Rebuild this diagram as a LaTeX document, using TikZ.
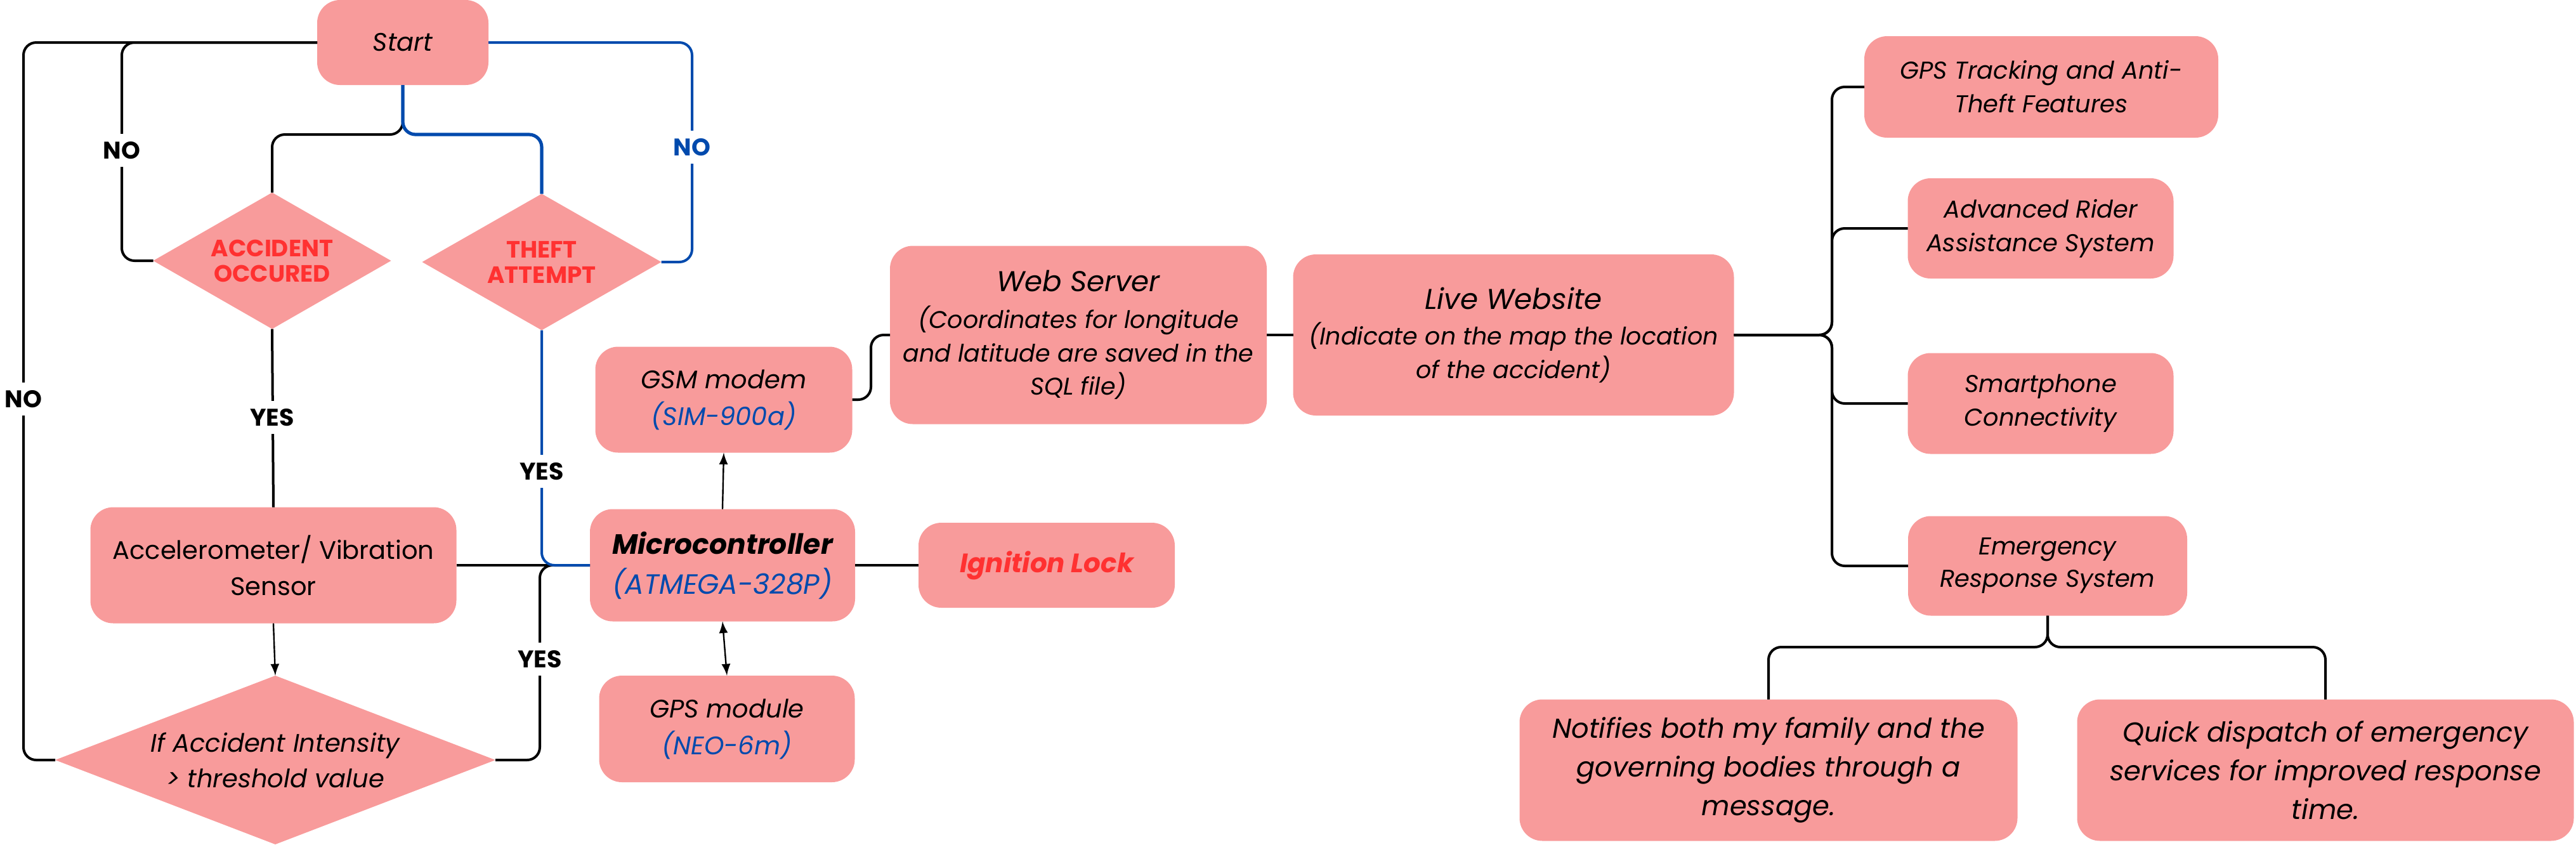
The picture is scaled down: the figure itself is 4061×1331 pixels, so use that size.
\documentclass[tikz,border=0pt]{standalone}
\usepackage{fontspec}
\setmainfont{Poppins}
\usepackage{tikz}
\usetikzlibrary{shapes,arrows,positioning}
\definecolor{boxpink}{HTML}{F89B9B}
\definecolor{alertred}{HTML}{FF3131}
\definecolor{partblue}{HTML}{004AAD}
\tikzset{
	sz/.style 2 args={minimum width=#1*0.25pt, minimum height=#2*0.25pt},
	box/.style={rectangle, rounded corners=9pt, fill=boxpink, align=center, inner sep=0pt, outer sep=0pt, font=\itshape\fontsize{10}{14}\selectfont},
	dia/.style={diamond, fill=boxpink, inner sep=0pt, outer sep=0pt},
	diatext/.style={align=center, inner sep=0pt},
	conn/.style={line width=1pt, rounded corners=5pt},
	bconn/.style={conn, draw=partblue},
	arr/.style={line width=0.6pt, -latex},
	lbl/.style={fill=white, inner sep=3pt, font=\bfseries\fontsize{9.5}{11}\selectfont},
}
\begin{document}
\begin{tikzpicture}[x=0.25pt, y=-0.25pt]
	\useasboundingbox (0,0) rectangle (4061,1331);

	\node[box, sz={270}{134}] (start) at (635,67) {Start};
	\node[dia, sz={375}{215}] (acc) at (429,411) {};
	\node[diatext, text=alertred, font=\bfseries\fontsize{9.3}{10}\selectfont] (acctext) at (acc) {ACCIDENT\\OCCURED};
	\node[dia, sz={377}{215}] (theft) at (854,413) {};
	\node[diatext, text=alertred, font=\bfseries\fontsize{9.3}{10}\selectfont] (thefttext) at (theft) {THEFT\\ATTEMPT};
	\node[box, sz={577}{183}, font=\fontsize{10}{14.25}\selectfont] (accel) at (431,891) {Accelerometer/ Vibration\\Sensor};
	\node[dia, sz={694}{266}] (thr) at (434,1198) {};
	\node[diatext, font=\itshape\fontsize{10}{14}\selectfont] (thrtext) at (thr) {If Accident Intensity\\> threshold value};

	\node[box, sz={418}{177}, font=\itshape\fontsize{11}{15.75}\selectfont] (micro) at (1139,891) {\textbf{Microcontroller}\\\textcolor{partblue}{(ATMEGA-328P)}};
	\node[box, sz={405}{167}, font=\itshape\fontsize{10}{14.5}\selectfont] (gsm) at (1141,630) {GSM modem\\\textcolor{partblue}{(SIM-900a)}};
	\node[box, sz={403}{168}, font=\itshape\fontsize{10}{14.5}\selectfont] (gps) at (1146,1149) {GPS module\\\textcolor{partblue}{(NEO-6m)}};
	\node[box, sz={404}{134}, text=alertred, font=\bfseries\itshape\fontsize{10.5}{14}\selectfont] (ign) at (1650,891) {Ignition Lock};

	\node[box, sz={594}{281}, font=\itshape\fontsize{9.5}{13.1}\selectfont] (web) at (1700,528) {{\fontsize{11.3}{14.5}\selectfont Web Server}\\[1.4pt](Coordinates for longitude\\and latitude are saved in the\\SQL file)};
	\node[box, sz={695}{254}, font=\itshape\fontsize{9.5}{13.25}\selectfont] (live) at (2386,528) {{\fontsize{11.3}{14}\selectfont Live Website}\\[0.8pt](Indicate on the map the location\\of the accident)};

	\node[box, sz={558}{160}, font=\itshape\fontsize{9.6}{13.25}\selectfont] (track) at (3218,137) {GPS Tracking and Anti-\\Theft Features};
	\node[box, sz={419}{158}, font=\itshape\fontsize{9.6}{13.25}\selectfont] (adas) at (3217,360) {Advanced Rider\\Assistance System};
	\node[box, sz={419}{159}, font=\itshape\fontsize{9.6}{13.25}\selectfont] (phone) at (3217,636) {Smartphone\\Connectivity};
	\node[box, sz={440}{157}, font=\itshape\fontsize{9.6}{12.75}\selectfont] (ers) at (3228,892) {Emergency\\Response System};
	\node[box, sz={785}{223}, font=\itshape\fontsize{10.8}{15.25}\selectfont] (notify) at (2788,1214) {Notifies both my family and the\\governing bodies through a\\message.};
	\node[box, sz={783}{223}, font=\itshape\fontsize{10.8}{15.25}\selectfont] (quick) at (3666,1214) {Quick dispatch of emergency\\services for improved response\\time.};

	\draw[conn] (start.west) -| (37,1198) -- (thr.west);
	\draw[conn] (start.west) -| (192,411) -- (acc.west);
	\draw[bconn] (start.east) -| (1091,413) -- (theft.east);
	\draw[conn] (start.south) -- (635,212) -| (acc.north);
	\draw[bconn, line width=1.3pt] (start.south) -- (635,212) -| (theft.north);
	\draw[conn] (acc.south) -- (accel.north);
	\draw[conn] (accel.east) -- (micro.west);
	\draw[conn] (thr.east) -| (851,891) -- (micro.west);
	\draw[bconn] (theft.south) |- (micro.west);
	\draw[arr] (accel.south) -- (thr.north);
	\draw[arr] (micro.north) -- (gsm.south);
	\draw[arr, latex-latex] (micro.south) -- (gps.north);
	\draw[conn] (micro.east) -- (ign.west);
	\draw[conn] (gsm.east) -| (1373,528) -- (web.west);
	\draw[conn] (web.east) -- (live.west);
	\draw[conn] (live.east) -- (2888,528) |- (track.west);
	\draw[conn] (live.east) -- (2888,528) |- (adas.west);
	\draw[conn] (live.east) -- (2888,528) |- (phone.west);
	\draw[conn] (live.east) -- (2888,528) |- (ers.west);
	\draw[conn] (ers.south) -- (3228,1020) -| (notify.north);
	\draw[conn] (ers.south) -- (3228,1020) -| (quick.north);

	\node[lbl] (noouter) at (37,629) {NO};
	\node[lbl] (noacc) at (192,237) {NO};
	\node[lbl, text=partblue] (notheft) at (1091,232) {NO};
	\node[lbl] (yesacc) at (429,658) {YES};
	\node[lbl] (yestheft) at (854,743) {YES};
	\node[lbl] (yesthr) at (851,1039) {YES};
\end{tikzpicture}
\end{document}
